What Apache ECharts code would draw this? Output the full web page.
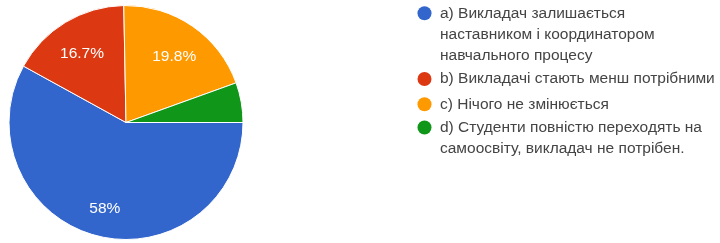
<!DOCTYPE html>
<html>
<head>
<meta charset="utf-8">
<script src="https://cdn.jsdelivr.net/npm/echarts@6/dist/echarts.min.js"></script>
<style>
  html, body { margin: 0; padding: 0; background: #fff; }
  #chart { width: 720px; height: 243px; }
</style>
</head>
<body>
<div id="chart"></div>
<script>
// answer options (full names) and how the legend wraps them
const categories = [
  'a) Викладач залишається наставником і координатором навчального процесу',
  'b) Викладачі стають менш потрібними',
  'c) Нічого не змінюється',
  'd) Студенти повністю переходять на самоосвіту, викладач не потрібен.'
]
const legendLines = [
  ['a) Викладач залишається', 'наставником і координатором', 'навчального процесу'],
  ['b) Викладачі стають менш потрібними'],
  ['c) Нічого не змінюється'],
  ['d) Студенти повністю переходять на', 'самоосвіту, викладач не потрібен.']
]
// share of answers, %
const shares = [58, 16.7, 19.8, 5.5]
const colors = ['#3366cc', '#dc3912', '#ff9900', '#109618']

const FONT = '"Liberation Sans", Arial, sans-serif'
const LINE_H = 21
const ICON = 14
// y of each legend entry's first text line
const firstLineY = [13.3, 79, 104.3, 127.5]

const chart = echarts.init(document.getElementById('chart'), null, { renderer: 'canvas' })

const pieData = categories.map((name, i) => ({
  name,
  value: shares[i],
  itemStyle: { color: colors[i] }
}))

// one legend per entry; blank lines on top keep the marker beside the first line
const legends = categories.map((name, i) => {
  const n = legendLines[i].length
  const blank = new Array(n - 1).fill('')
  return {
    orient: 'vertical',
    left: 417.5,
    top: firstLineY[i] - (2 * n - 1) * LINE_H / 2,
    padding: 0,
    itemWidth: ICON,
    itemHeight: ICON,
    icon: 'circle',
    itemStyle: { borderWidth: 0 },
    selectedMode: false,
    data: [name],
    formatter: () => blank.concat(legendLines[i]).join('\n'),
    textStyle: {
      fontFamily: FONT,
      fontSize: 15.5,
      color: '#444',
      lineHeight: LINE_H,
      padding: [0, 0, 0, 3.5]
    }
  }
})

chart.setOption({
  backgroundColor: '#fff',
  animation: false,
  legend: legends,
  series: [
    {
      type: 'pie',
      center: [126, 122.5],
      radius: [0, 117],
      startAngle: 0,
      clockwise: true,
      silent: true,
      label: { show: false },
      labelLine: { show: false },
      itemStyle: { borderColor: '#fff', borderWidth: 1 },
      data: pieData
    },
    {
      // transparent ring only to carry the percentage labels further out
      type: 'pie',
      center: [126, 122.5],
      radius: [47, 117],
      startAngle: 0,
      clockwise: true,
      silent: true,
      legendHoverLink: false,
      itemStyle: { color: 'rgba(0,0,0,0)' },
      labelLine: { show: false },
      label: {
        show: true,
        position: 'inside',
        offset: [0, 4],
        fontFamily: FONT,
        fontSize: 15.5,
        color: '#fff',
        formatter: (p) => (p.value < 10 ? '' : p.value + '%')
      },
      data: categories.map((name, i) => ({ name, value: shares[i] }))
    }
  ]
})
</script>
</body>
</html>
